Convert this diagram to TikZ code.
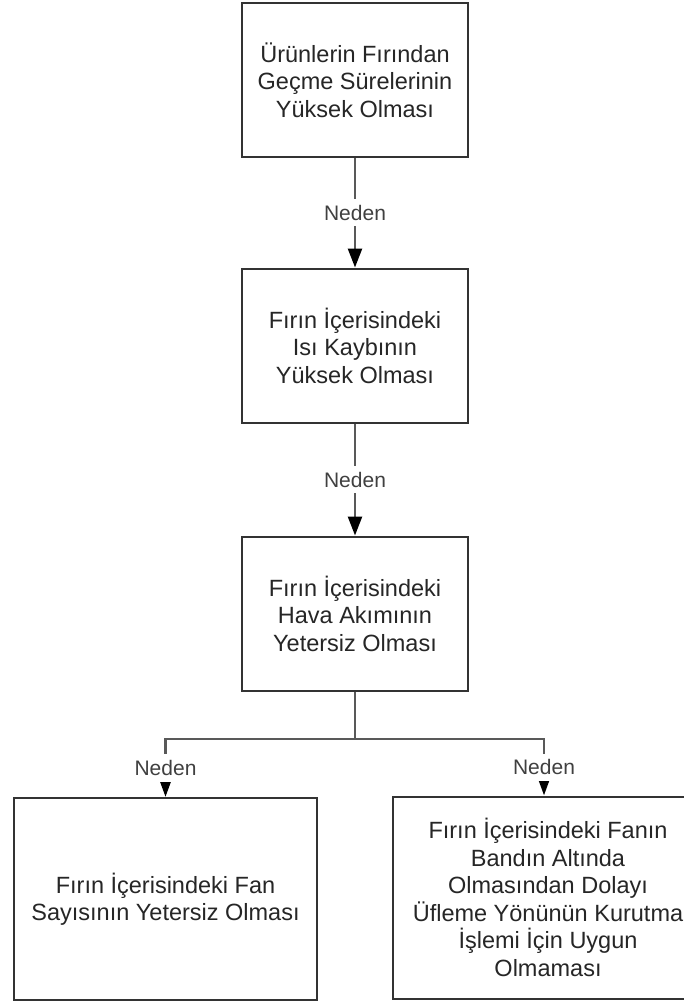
\documentclass[tikz,border=0pt]{standalone}
\usepackage{fontspec}
\setmainfont{Liberation Sans}
\usetikzlibrary{arrows.meta}

\begin{document}
\begin{tikzpicture}[x=1pt,y=1pt,
    kutu/.style={draw=black!80,line width=2pt,align=center,text=black!85,
        font=\fontsize{23.5}{27.5}\selectfont},
    kucukkutu/.style={kutu,minimum width=226pt,minimum height=154pt},
    buyukkutu/.style={kutu,minimum width=303pt,minimum height=202pt},
    bag/.style={draw=black!65,line width=2.5pt},
    ok/.style={bag,-{Triangle[length=19pt,width=14pt,color=black]}},
    kucukok/.style={bag,-{Triangle[length=15pt,width=10pt,color=black]}},
    neden/.style={fill=white,inner xsep=3pt,inner ysep=6pt,text=black!75,
        font=\fontsize{21}{24}\selectfont}]

    \fill[white] (0,0) rectangle (684,-1003);
    \useasboundingbox (0,0) rectangle (684,-1003);

    \node[kucukkutu] (urun) at (355,-80)
        {Ürünlerin Fırından\\Geçme Sürelerinin\\Yüksek Olması};
    \node[kucukkutu] (isi) at (355,-345.5)
        {Fırın İçerisindeki\\Isı Kaybının\\Yüksek Olması};
    \node[kucukkutu] (hava) at (355,-613.5)
        {Fırın İçerisindeki\\Hava Akımının\\Yetersiz Olması};
    \node[buyukkutu] (fansayi) at (165.5,-899)
        {Fırın İçerisindeki Fan\\Sayısının Yetersiz Olması};
    \node[buyukkutu,minimum width=310pt] (fanyon) at (548,-897.5)
        {Fırın İçerisindeki Fanın\\Bandın Altında\\Olmasından Dolayı\\Üfleme Yönünün Kurutma\\İşlemi İçin Uygun\\Olmaması};

    \coordinate (ayrim) at (355,-739);

    \draw[ok] (urun) -- node[neden] {Neden} (isi);
    \draw[ok] (isi) -- node[neden] {Neden} (hava);
    \draw[bag] (hava) -- (ayrim);
    \draw[kucukok] (ayrim) -| node[neden,pos=0.75] {Neden} (fansayi);
    \draw[kucukok] (ayrim) -| node[neden,pos=0.75] {Neden} ([xshift=-4pt]fanyon.north);
\end{tikzpicture}
\end{document}
